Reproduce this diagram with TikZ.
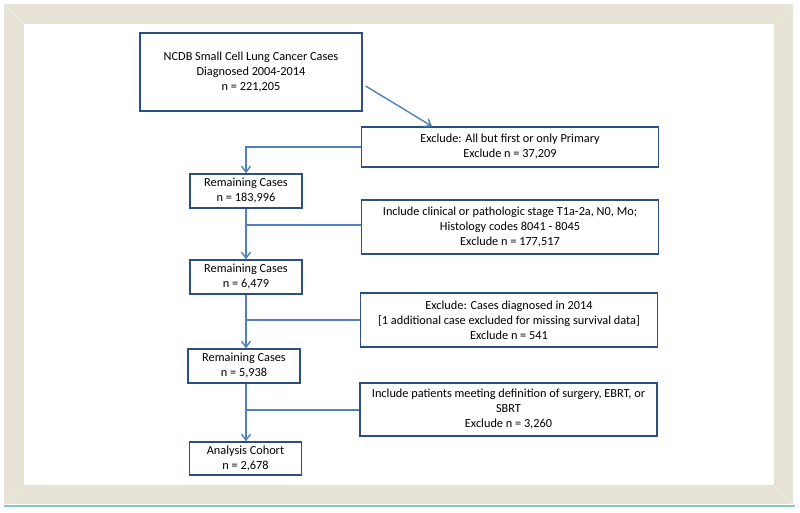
\documentclass[tikz,border=0pt]{standalone}
\usepackage{fontspec}
\setmainfont{Carlito}
\usetikzlibrary{arrows.meta}
\definecolor{framebeige}{HTML}{E7E2D6}
\definecolor{framelight}{HTML}{EFEBE2}
\definecolor{boxnavy}{HTML}{2E4D80}
\definecolor{linkblue}{HTML}{4F81BD}
\definecolor{rimteal}{HTML}{8CC8B8}
\begin{document}
\begin{tikzpicture}[x=1pt,y=-1pt,
  cbox/.style={draw=boxnavy,line width=1.4pt,fill=white,align=center,inner sep=0pt,
    font=\fontsize{12.3}{15}\selectfont},
  wide/.style={cbox,minimum width=297pt},
  small/.style={cbox,minimum width=112pt,minimum height=34pt},
  link/.style={draw=linkblue,line width=1.4pt},
  >={Straight Barb[length=6pt,width=9pt]}]
\useasboundingbox (0,0) rectangle (800,512);
% frame
\fill[framebeige] (4,4) rectangle (793,504);
\fill[white] (24,24) rectangle (774,485);
\draw[framelight,line width=0.8pt] (4,4) -- (24,24) (793,4) -- (774,24)
  (4,504) -- (24,485) (793,504) -- (774,485);
\draw[rimteal,line width=2pt] (4,505.5) -- (795,505.5);
% boxes
\node[cbox,minimum width=222pt,minimum height=78pt] (top) at (251,72)
  {NCDB Small Cell Lung Cancer Cases\\Diagnosed 2004-2014\\n = 221,205};
\node[wide,minimum height=40pt] (ex1) at (510,147)
  {Exclude: All but first or only Primary\\Exclude n = 37,209};
\node[small] (rem1) at (246,191) {Remaining Cases\\n = 183,996};
\node[wide,minimum height=54pt] (inc2) at (510,227)
  {Include clinical or pathologic stage T1a-2a, N0, Mo;\\Histology codes 8041 - 8045\\Exclude n = 177,517};
\node[small] (rem2) at (246,277) {Remaining Cases\\n = 6,479};
\node[wide,minimum height=54pt] (ex3) at (509,320)
  {Exclude: Cases diagnosed in 2014\\{[1 additional case excluded for missing survival data]}\\Exclude n = 541};
\node[small] (rem3) at (244,366) {Remaining Cases\\n = 5,938};
\node[wide,minimum height=53pt] (inc4) at (508.5,409.5)
  {Include patients meeting definition of surgery, EBRT, or\\SBRT\\Exclude n = 3,260};
\node[small,minimum height=33pt] (an) at (245.5,458.5) {Analysis Cohort\\n = 2,678};
% connectors
\draw[link,->] ([xshift=3pt,yshift=-14pt]top.east) -- ([xshift=-78pt]ex1.north);
\draw[link,->] (ex1.west) -| (rem1.north);
\draw[link,->] (rem1.south) -- (rem2.north);
\draw[link] ([yshift=2pt]inc2.west) -- ([yshift=2pt]rem1.south |- inc2.west);
\draw[link,->] (rem2.south) -- (rem2.south |- rem3.north);
\draw[link] (ex3.west) -- (rem2.south |- ex3.west);
\draw[link,->] (rem2.south |- rem3.south) -- (rem2.south |- an.north);
\draw[link] ([yshift=-0.4pt]inc4.west) -- ([yshift=-0.4pt]rem2.south |- inc4.west);
\end{tikzpicture}
\end{document}
